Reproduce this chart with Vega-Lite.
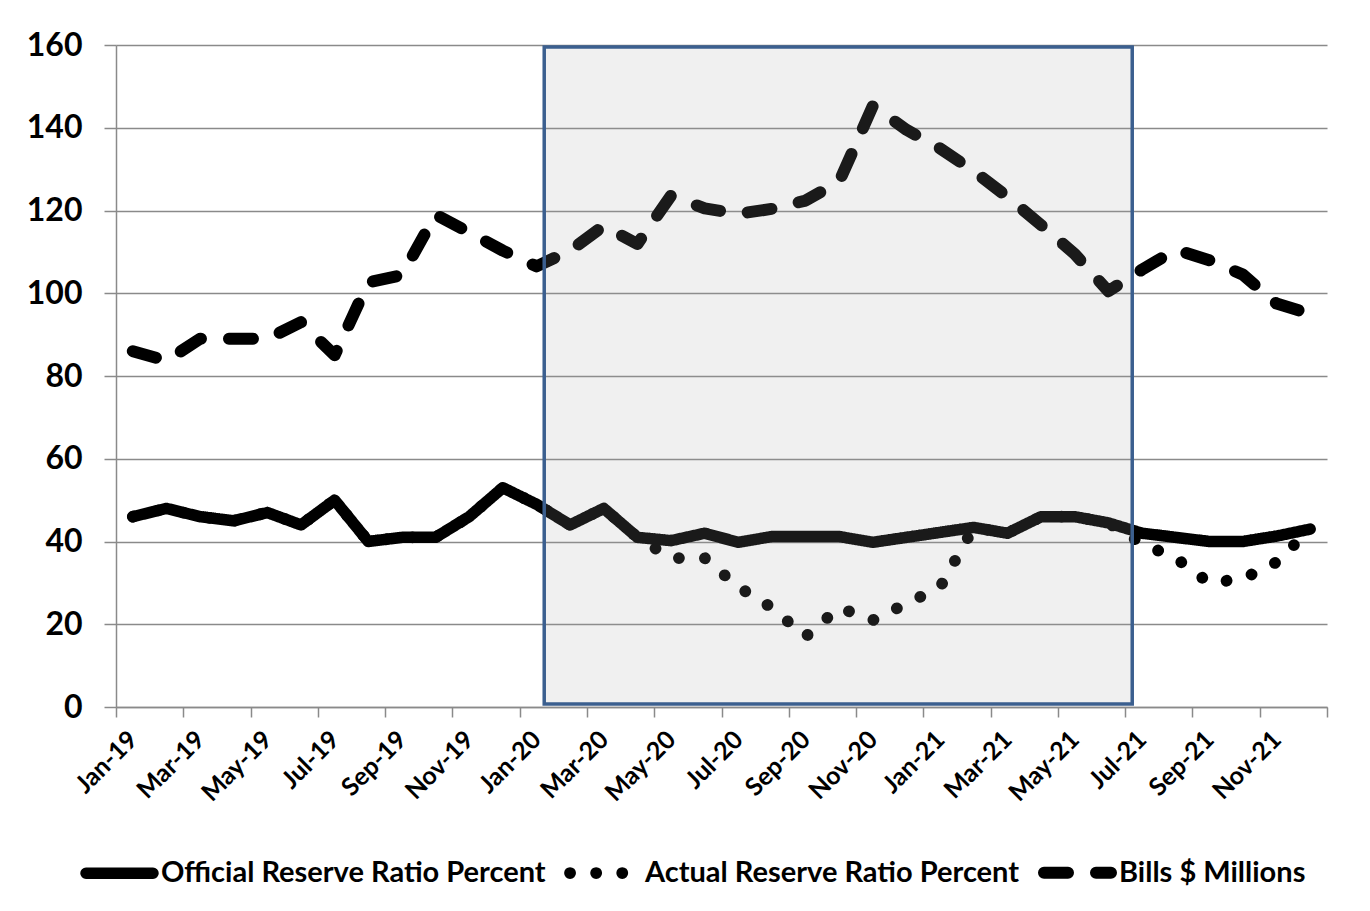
{
  "$schema": "https://vega.github.io/schema/vega-lite/v6.json",
  "width": 1211,
  "height": 662,
  "autosize": {"type": "none"},
  "padding": {"left": 116, "top": 45, "right": 43, "bottom": 204},
  "background": "white",
  "config": {
    "view": {"stroke": null},
    "font": "Lato"
  },
  "datasets": {
    "series": [
      {"i":0,"month":"Jan-19","series":"Actual Reserve Ratio Percent","value":46},
      {"i":1,"month":"Feb-19","series":"Actual Reserve Ratio Percent","value":48},
      {"i":2,"month":"Mar-19","series":"Actual Reserve Ratio Percent","value":46},
      {"i":3,"month":"Apr-19","series":"Actual Reserve Ratio Percent","value":45},
      {"i":4,"month":"May-19","series":"Actual Reserve Ratio Percent","value":47},
      {"i":5,"month":"Jun-19","series":"Actual Reserve Ratio Percent","value":44},
      {"i":6,"month":"Jul-19","series":"Actual Reserve Ratio Percent","value":50},
      {"i":7,"month":"Aug-19","series":"Actual Reserve Ratio Percent","value":40},
      {"i":8,"month":"Sep-19","series":"Actual Reserve Ratio Percent","value":41},
      {"i":9,"month":"Oct-19","series":"Actual Reserve Ratio Percent","value":41},
      {"i":10,"month":"Nov-19","series":"Actual Reserve Ratio Percent","value":46},
      {"i":11,"month":"Dec-19","series":"Actual Reserve Ratio Percent","value":53},
      {"i":12,"month":"Jan-20","series":"Actual Reserve Ratio Percent","value":49},
      {"i":13,"month":"Feb-20","series":"Actual Reserve Ratio Percent","value":44},
      {"i":14,"month":"Mar-20","series":"Actual Reserve Ratio Percent","value":48},
      {"i":15,"month":"Apr-20","series":"Actual Reserve Ratio Percent","value":41},
      {"i":16,"month":"May-20","series":"Actual Reserve Ratio Percent","value":36},
      {"i":17,"month":"Jun-20","series":"Actual Reserve Ratio Percent","value":36},
      {"i":18,"month":"Jul-20","series":"Actual Reserve Ratio Percent","value":29},
      {"i":19,"month":"Aug-20","series":"Actual Reserve Ratio Percent","value":24},
      {"i":20,"month":"Sep-20","series":"Actual Reserve Ratio Percent","value":17},
      {"i":21,"month":"Oct-20","series":"Actual Reserve Ratio Percent","value":24},
      {"i":22,"month":"Nov-20","series":"Actual Reserve Ratio Percent","value":21},
      {"i":23,"month":"Dec-20","series":"Actual Reserve Ratio Percent","value":25},
      {"i":24,"month":"Jan-21","series":"Actual Reserve Ratio Percent","value":29},
      {"i":25,"month":"Feb-21","series":"Actual Reserve Ratio Percent","value":43.4},
      {"i":26,"month":"Mar-21","series":"Actual Reserve Ratio Percent","value":42},
      {"i":27,"month":"Apr-21","series":"Actual Reserve Ratio Percent","value":46},
      {"i":28,"month":"May-21","series":"Actual Reserve Ratio Percent","value":46},
      {"i":29,"month":"Jun-21","series":"Actual Reserve Ratio Percent","value":44.5},
      {"i":30,"month":"Jul-21","series":"Actual Reserve Ratio Percent","value":39.5},
      {"i":31,"month":"Aug-21","series":"Actual Reserve Ratio Percent","value":36},
      {"i":32,"month":"Sep-21","series":"Actual Reserve Ratio Percent","value":30},
      {"i":33,"month":"Oct-21","series":"Actual Reserve Ratio Percent","value":31},
      {"i":34,"month":"Nov-21","series":"Actual Reserve Ratio Percent","value":35},
      {"i":35,"month":"Dec-21","series":"Actual Reserve Ratio Percent","value":43},

      {"i":0,"month":"Jan-19","series":"Official Reserve Ratio Percent","value":46},
      {"i":1,"month":"Feb-19","series":"Official Reserve Ratio Percent","value":48},
      {"i":2,"month":"Mar-19","series":"Official Reserve Ratio Percent","value":46},
      {"i":3,"month":"Apr-19","series":"Official Reserve Ratio Percent","value":45},
      {"i":4,"month":"May-19","series":"Official Reserve Ratio Percent","value":47},
      {"i":5,"month":"Jun-19","series":"Official Reserve Ratio Percent","value":44},
      {"i":6,"month":"Jul-19","series":"Official Reserve Ratio Percent","value":50},
      {"i":7,"month":"Aug-19","series":"Official Reserve Ratio Percent","value":40},
      {"i":8,"month":"Sep-19","series":"Official Reserve Ratio Percent","value":41},
      {"i":9,"month":"Oct-19","series":"Official Reserve Ratio Percent","value":41},
      {"i":10,"month":"Nov-19","series":"Official Reserve Ratio Percent","value":46},
      {"i":11,"month":"Dec-19","series":"Official Reserve Ratio Percent","value":53},
      {"i":12,"month":"Jan-20","series":"Official Reserve Ratio Percent","value":49},
      {"i":13,"month":"Feb-20","series":"Official Reserve Ratio Percent","value":44},
      {"i":14,"month":"Mar-20","series":"Official Reserve Ratio Percent","value":48},
      {"i":15,"month":"Apr-20","series":"Official Reserve Ratio Percent","value":41},
      {"i":16,"month":"May-20","series":"Official Reserve Ratio Percent","value":40.2},
      {"i":17,"month":"Jun-20","series":"Official Reserve Ratio Percent","value":42},
      {"i":18,"month":"Jul-20","series":"Official Reserve Ratio Percent","value":39.8},
      {"i":19,"month":"Aug-20","series":"Official Reserve Ratio Percent","value":41.2},
      {"i":20,"month":"Sep-20","series":"Official Reserve Ratio Percent","value":41.2},
      {"i":21,"month":"Oct-20","series":"Official Reserve Ratio Percent","value":41.2},
      {"i":22,"month":"Nov-20","series":"Official Reserve Ratio Percent","value":39.8},
      {"i":23,"month":"Dec-20","series":"Official Reserve Ratio Percent","value":41},
      {"i":24,"month":"Jan-21","series":"Official Reserve Ratio Percent","value":42.2},
      {"i":25,"month":"Feb-21","series":"Official Reserve Ratio Percent","value":43.4},
      {"i":26,"month":"Mar-21","series":"Official Reserve Ratio Percent","value":42},
      {"i":27,"month":"Apr-21","series":"Official Reserve Ratio Percent","value":46},
      {"i":28,"month":"May-21","series":"Official Reserve Ratio Percent","value":46},
      {"i":29,"month":"Jun-21","series":"Official Reserve Ratio Percent","value":44.5},
      {"i":30,"month":"Jul-21","series":"Official Reserve Ratio Percent","value":42},
      {"i":31,"month":"Aug-21","series":"Official Reserve Ratio Percent","value":41},
      {"i":32,"month":"Sep-21","series":"Official Reserve Ratio Percent","value":40},
      {"i":33,"month":"Oct-21","series":"Official Reserve Ratio Percent","value":40},
      {"i":34,"month":"Nov-21","series":"Official Reserve Ratio Percent","value":41.3},
      {"i":35,"month":"Dec-21","series":"Official Reserve Ratio Percent","value":43},

      {"i":0,"month":"Jan-19","series":"Bills $ Millions","value":86},
      {"i":1,"month":"Feb-19","series":"Bills $ Millions","value":83.7},
      {"i":2,"month":"Mar-19","series":"Bills $ Millions","value":89},
      {"i":3,"month":"Apr-19","series":"Bills $ Millions","value":89},
      {"i":4,"month":"May-19","series":"Bills $ Millions","value":89},
      {"i":5,"month":"Jun-19","series":"Bills $ Millions","value":93},
      {"i":6,"month":"Jul-19","series":"Bills $ Millions","value":85},
      {"i":7,"month":"Aug-19","series":"Bills $ Millions","value":102.6},
      {"i":8,"month":"Sep-19","series":"Bills $ Millions","value":104.4},
      {"i":9,"month":"Oct-19","series":"Bills $ Millions","value":119},
      {"i":10,"month":"Nov-19","series":"Bills $ Millions","value":114.7},
      {"i":11,"month":"Dec-19","series":"Bills $ Millions","value":110.3},
      {"i":12,"month":"Jan-20","series":"Bills $ Millions","value":106.5},
      {"i":13,"month":"Feb-20","series":"Bills $ Millions","value":110.3},
      {"i":14,"month":"Mar-20","series":"Bills $ Millions","value":116.3},
      {"i":15,"month":"Apr-20","series":"Bills $ Millions","value":111.9},
      {"i":16,"month":"May-20","series":"Bills $ Millions","value":123.6},
      {"i":17,"month":"Jun-20","series":"Bills $ Millions","value":120.5},
      {"i":18,"month":"Jul-20","series":"Bills $ Millions","value":119.2},
      {"i":19,"month":"Aug-20","series":"Bills $ Millions","value":120.4},
      {"i":20,"month":"Sep-20","series":"Bills $ Millions","value":122.4},
      {"i":21,"month":"Oct-20","series":"Bills $ Millions","value":127},
      {"i":22,"month":"Nov-20","series":"Bills $ Millions","value":145.3},
      {"i":23,"month":"Dec-20","series":"Bills $ Millions","value":139.5},
      {"i":24,"month":"Jan-21","series":"Bills $ Millions","value":135},
      {"i":25,"month":"Feb-21","series":"Bills $ Millions","value":129.5},
      {"i":26,"month":"Mar-21","series":"Bills $ Millions","value":123.3},
      {"i":27,"month":"Apr-21","series":"Bills $ Millions","value":116.5},
      {"i":28,"month":"May-21","series":"Bills $ Millions","value":109.5},
      {"i":29,"month":"Jun-21","series":"Bills $ Millions","value":100.5},
      {"i":30,"month":"Jul-21","series":"Bills $ Millions","value":105.7},
      {"i":31,"month":"Aug-21","series":"Bills $ Millions","value":110.5},
      {"i":32,"month":"Sep-21","series":"Bills $ Millions","value":108},
      {"i":33,"month":"Oct-21","series":"Bills $ Millions","value":104.5},
      {"i":34,"month":"Nov-21","series":"Bills $ Millions","value":97.5},
      {"i":35,"month":"Dec-21","series":"Bills $ Millions","value":95}
    ]
  },
  "layer": [
    {
      "data": {"name": "series"},
      "mark": {"type": "line", "strokeCap": "round", "strokeJoin": "round", "color": "black", "clip": false},
      "encoding": {
        "x": {
          "field": "i",
          "type": "quantitative",
          "scale": {"domain": [-0.5, 35.5], "nice": false, "zero": false},
          "axis": {
            "title": null,
            "values": [-0.5, 1.5, 3.5, 5.5, 7.5, 9.5, 11.5, 13.5, 15.5, 17.5, 19.5, 21.5, 23.5, 25.5, 27.5, 29.5, 31.5, 33.5, 35.5],
            "labelExpr": "['Jan-19','Mar-19','May-19','Jul-19','Sep-19','Nov-19','Jan-20','Mar-20','May-20','Jul-20','Sep-20','Nov-20','Jan-21','Mar-21','May-21','Jul-21','Sep-21','Nov-21',''][(datum.value + 0.5) / 2]",
            "labelOffset": 16.8,
            "labelAngle": -45,
            "labelAlign": "right",
            "labelBaseline": "middle",
            "labelFont": "Lato",
            "labelFontWeight": "bold",
            "labelFontSize": 25,
            "labelColor": "black",
            "labelPadding": 18,
            "labelFlush": false,
            "labelOverlap": false,
            "labelBound": false,
            "grid": false,
            "tickSize": 10,
            "tickColor": "#8a8a8a",
            "tickWidth": 1.5,
            "domainColor": "#8a8a8a",
            "domainWidth": 1.5
          }
        },
        "y": {
          "field": "value",
          "type": "quantitative",
          "scale": {"domain": [0, 160], "nice": false},
          "axis": {
            "title": null,
            "values": [0, 20, 40, 60, 80, 100, 120, 140, 160],
            "labelFont": "Lato",
            "labelFontWeight": "bold",
            "labelFontSize": 32,
            "labelColor": "black",
            "labelPadding": 22,
            "tickSize": 12,
            "tickColor": "#8a8a8a",
            "tickWidth": 1.5,
            "domainColor": "#8a8a8a",
            "domainWidth": 1.5,
            "grid": true,
            "gridColor": "#8a8a8a",
            "gridWidth": 1.5
          }
        },
        "detail": {"field": "series"},
        "strokeDash": {
          "field": "series",
          "type": "nominal",
          "scale": {
            "domain": ["Official Reserve Ratio Percent", "Actual Reserve Ratio Percent", "Bills $ Millions"],
            "range": [[1, 0], [0.1, 26], [24, 28]]
          },
          "legend": {
            "title": null,
            "orient": "none",
            "legendX": -36,
            "legendY": 788,
            "direction": "horizontal",
            "symbolType": "stroke",
            "symbolSize": 4489,
            "symbolStrokeWidth": 11,
            "symbolStrokeColor": "black",
            "labelFont": "Lato",
            "labelFontWeight": "bold",
            "labelFontSize": 29,
            "labelColor": "black",
            "labelOffset": 2,
            "columnPadding": 0,
            "labelLimit": 700,
            "encode": {"symbols": {"update": {"strokeCap": {"value": "round"}}}}
          }
        },
        "strokeWidth": {
          "field": "series",
          "type": "nominal",
          "scale": {
            "domain": ["Official Reserve Ratio Percent", "Actual Reserve Ratio Percent", "Bills $ Millions"],
            "range": [11.5, 12, 11]
          },
          "legend": null
        }
      }
    },
    {
      "data": {"values": [{}]},
      "mark": {"type": "rect", "fill": "#a2a2a2", "fillOpacity": 0.16, "stroke": "#3b5f8f", "strokeWidth": 3.5},
      "encoding": {
        "x": {"datum": 12.23, "type": "quantitative"},
        "x2": {"datum": 29.71},
        "y": {"datum": 0.7, "type": "quantitative"},
        "y2": {"datum": 159.5}
      }
    }
  ]
}
